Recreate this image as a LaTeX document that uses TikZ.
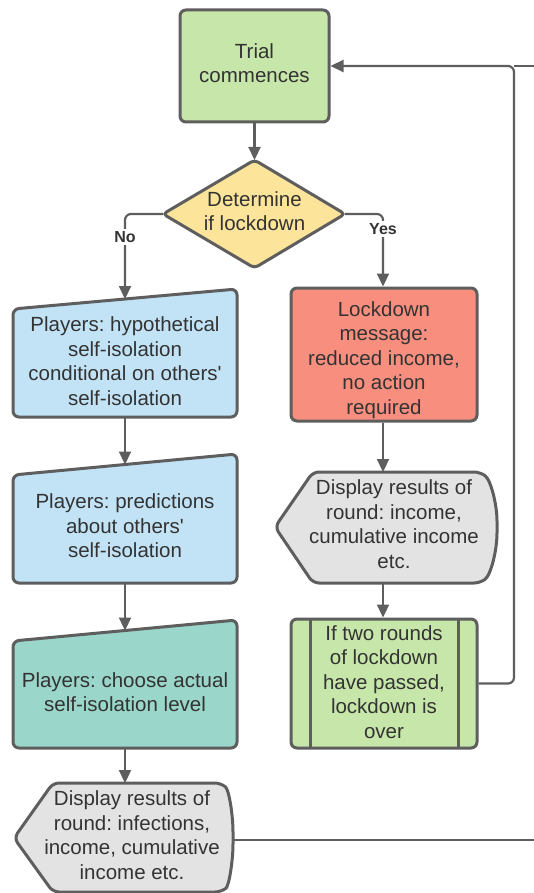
\documentclass[tikz,border=0pt]{standalone}
\usepackage{fontspec}
\setmainfont{Liberation Sans}
\usetikzlibrary{arrows.meta}
\definecolor{bordergray}{HTML}{5E5E5E}
\definecolor{txtgray}{HTML}{333333}
\definecolor{lgreen}{HTML}{C7E7AA}
\definecolor{lblue}{HTML}{C2E3F6}
\definecolor{lteal}{HTML}{9AD6CA}
\definecolor{lred}{HTML}{F88E7E}
\definecolor{lyellow}{HTML}{FCE49B}
\definecolor{lgray}{HTML}{E3E3E3}
\frenchspacing
\begin{document}
\begin{tikzpicture}[x=1pt,y=-1pt,
  shapeline/.style={draw=bordergray, line width=3pt, rounded corners=6pt},
  txt/.style={text=txtgray, font=\fontsize{20.5}{24.5}\selectfont, align=center, inner sep=0pt},
  conn/.style={draw=bordergray, line width=2.2pt, rounded corners=6pt},
  arr/.style={conn, -{Triangle[length=13pt,width=12pt]}},
  lbl/.style={text=txtgray, font=\fontsize{16}{18}\selectfont\bfseries, fill=white, inner sep=2pt}]
\useasboundingbox (0,0) rectangle (534,893);
\fill[white] (0,0) rectangle (534,893);

% Trial commences
\node[shapeline, fill=lgreen, minimum width=149pt, minimum height=112pt, inner sep=0pt] (trial) at (254.5,66) {};
\node[txt] (trialtext) at (254.5,63) {Trial\\commences};

% Diamond
\draw[shapeline, fill=lyellow, rounded corners=4pt] (254.5,160) -- (345,214) -- (254.5,268) -- (163,214) -- cycle;
\coordinate (dtop) at (254.5,160);
\coordinate (dleft) at (163,214);
\coordinate (dright) at (345,214);
\node[txt] (dtext) at (254.5,211) {Determine\\if lockdown};

% Manual input boxes
\draw[shapeline, fill=lblue] (13,309) -- (237,289) -- (237,417) -- (13,417) -- cycle;
\coordinate (b1top) at (125,299);
\coordinate (b1bot) at (125,417);
\node[txt] (b1) at (125,361) {Players: hypothetical\\self-isolation\\conditional on others\textquotesingle\\self-isolation};

\draw[shapeline, fill=lblue] (13,475) -- (237,454) -- (237,583) -- (13,583) -- cycle;
\coordinate (b2top) at (125,464.5);
\coordinate (b2bot) at (125,583);
\node[txt] (b2) at (125,526) {Players: predictions\\about others\textquotesingle\\self-isolation};

\draw[shapeline, fill=lteal] (13,641) -- (237,620) -- (237,748) -- (13,748) -- cycle;
\coordinate (b3top) at (125,630.5);
\coordinate (b3bot) at (125,748);
\node[txt] (b3) at (125,692) {Players: choose actual\\self-isolation level};

% Left display
\draw[shapeline, fill=lgray] (53,783) -- (221,783)
  .. controls (229,790) and (233,815) .. (233,838)
  .. controls (233,861) and (229,886) .. (221,892) -- (53,892) -- (14,838) -- cycle;
\coordinate (d2top) at (125,783);
\coordinate (d2right) at (233,840);
\node[txt] (d2) at (132,835) {Display results of\\round: infections,\\income, cumulative\\income etc.};

% Red box
\node[shapeline, fill=lred, minimum width=186pt, minimum height=133pt, inner sep=0pt] (red) at (384,354.5) {};
\node[txt] (redtext) at (384,360) {Lockdown\\message:\\reduced income,\\no action\\required};

% Right display
\draw[shapeline, fill=lgray] (313,472) -- (480,472)
  .. controls (491,480) and (497,505) .. (497,527)
  .. controls (497,550) and (491,575) .. (480,583) -- (313,583) -- (275,527) -- cycle;
\coordinate (d1top) at (383,472);
\coordinate (d1bot) at (383,583);
\node[txt] (d1) at (394,524) {Display results of\\round: income,\\cumulative income\\etc.};

% Double-sided box
\node[shapeline, fill=lgreen, minimum width=186pt, minimum height=129pt, inner sep=0pt] (ifover) at (384,683.5) {};
\draw[draw=bordergray, line width=3pt] (310,619) -- (310,748) (458,619) -- (458,748);
\node[txt] (iftext) at (384,682) {If two rounds\\of lockdown\\have passed,\\lockdown is\\over};

% Connectors
\draw[arr] (trial.south) -- (dtop);
\draw[arr] (dleft) -- (125,214) -- (b1top);
\draw[arr] (dright) -- (383,214) -- (red.north -| 383,0);
\node[lbl] (nolbl) at (125,237) {No};
\node[lbl] (yeslbl) at (383,229) {Yes};
\draw[arr] (b1bot) -- (b2top);
\draw[arr] (b2bot) -- (b3top);
\draw[arr] (b3bot) -- (d2top);
\draw[arr] (red.south -| 383,0) -- (d1top);
\draw[arr] (d1bot) -- (ifover.north -| 383,0);
\draw[arr] (ifover.east) -- (514,683.5) -- (514,66) -- (trial.east);
\draw[conn] (540,66) -- (514,66);
\draw[conn] (d2right) -- (540,840);
\end{tikzpicture}
\end{document}
